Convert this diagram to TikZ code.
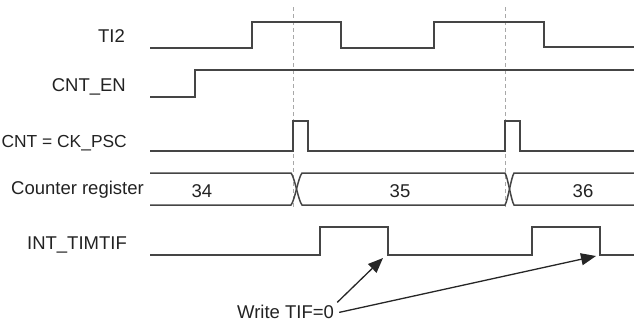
\documentclass[tikz,border=0pt]{standalone}
\usepackage{fontspec}
\setmainfont{Liberation Sans}
\usetikzlibrary{arrows.meta}
\definecolor{wave}{HTML}{454545}
\definecolor{txt}{HTML}{222222}
\definecolor{guide}{HTML}{A8A8A8}
\tikzset{
  sig/.style={draw=wave, line width=1.5pt, line join=miter},
  guideline/.style={draw=guide, line width=1pt, dash pattern=on 4pt off 3pt},
  lbl/.style={text=txt, inner sep=0pt, font=\fontsize{18.5}{21}\selectfont},
  ptr/.style={draw=black!85, line width=1.3pt, -{Triangle[length=15pt,width=12pt]}}
}
\begin{document}
\begin{tikzpicture}[x=1pt,y=-1pt]
\useasboundingbox (0,0) rectangle (634,324);
% guides
\draw[guideline] (293,7) -- (293,208);
\draw[guideline] (505,7) -- (505,208);
% labels
\node[lbl, anchor=base east] (lti) at (125,42) {TI2};
\node[lbl, anchor=base east] (len) at (126,91) {CNT\_EN};
\node[lbl, anchor=base east, font=\fontsize{17.4}{20}\selectfont] (lck) at (127,147) {CNT = CK\_PSC};
\node[lbl, anchor=base east] (lcr) at (144,194) {Counter register};
\node[lbl, anchor=base east] (lint) at (127,249) {INT\_TIMTIF};
% TI2
\draw[sig] (150,48) -- (252,48) -- (252,22) -- (341,22) -- (341,48) -- (434,48) -- (434,22) -- (544,22) -- (544,47) -- (634,47);
% CNT_EN
\draw[sig] (150,97) -- (195,97) -- (195,70) -- (634,70);
% CK_PSC
\draw[sig] (150,151) -- (293,151) -- (293,121) -- (308,121) -- (308,151) -- (505,151) -- (505,121) -- (520,121) -- (520,151) -- (634,151);
% Counter register
\draw[sig] (150,173) -- (291,173) .. controls (295,178) and (298,200) .. (302,205) -- (505,205) .. controls (508,200) and (511,178) .. (514,173) -- (634,173);
\draw[sig] (150,205) -- (291,205) .. controls (295,200) and (298,178) .. (302,173) -- (505,173) .. controls (508,178) and (511,200) .. (514,205) -- (634,205);
\node[lbl, anchor=base] (v34) at (202,197) {34};
\node[lbl, anchor=base] (v35) at (400,197) {35};
\node[lbl, anchor=base] (v36) at (583,197) {36};
% INT_TIMTIF
\draw[sig] (150,255) -- (320,255) -- (320,227) -- (388,227) -- (388,255) -- (532,255) -- (532,227) -- (600,227) -- (600,255) -- (634,255);
% write TIF=0
\node[lbl, anchor=base west] (wr) at (237,318) {Write TIF=0};
\coordinate (f1) at (383,258);
\coordinate (f2) at (596,256);
\draw[ptr] ([xshift=3pt,yshift=2pt]wr.north east) -- (f1);
\draw[ptr] ([xshift=5pt,yshift=-1pt]wr.east) -- (f2);
\end{tikzpicture}
\end{document}
